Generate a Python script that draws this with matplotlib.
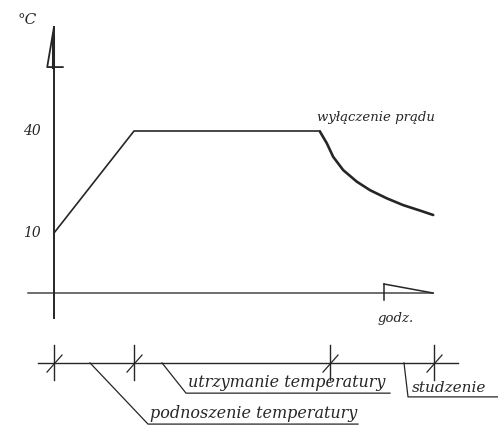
import matplotlib
matplotlib.use('Agg')
import matplotlib.pyplot as plt

# temperature profile (hours, deg C)
hours = [0, 2.0, 6.65]
temps = [10, 40, 40]
cool_hours = [6.65, 6.82, 6.98, 7.23, 7.57, 7.9, 8.32, 8.73, 9.15, 9.48]
cool_temps = [39.8, 36.4, 32.4, 28.5, 25.1, 22.6, 20.2, 18.2, 16.6, 15.3]

# phase boundaries on the time line below
phase_marks = [0, 2.0, 6.9, 9.5]
ytick_vals = [40, 10]
ytick_labels = ['40', '10']

ink = '#262626'
font = ['DejaVu Serif']

fig = plt.figure(figsize=(4.98, 4.28), dpi=100)
ax = fig.add_axes([0, 0, 1, 1])
ax.set_xlim(-1.35, 11.1)
ax.set_ylim(-47.35, 78.53)
ax.axis('off')

# curve
ax.plot(hours, temps, color=ink, lw=1.2, solid_joinstyle='miter')
ax.plot(cool_hours, cool_temps, color=ink, lw=1.9, solid_capstyle='round',
        solid_joinstyle='round')

# vertical axis with half arrow
ax.plot([0, 0], [-15, 70.6], color=ink, lw=1.4)
ax.plot([0, -0.17, 0.22], [70.6, 58.8, 58.8], color=ink, lw=1.3)
ax.plot([-0.02, -0.02], [58.8, 68], color=ink, lw=2.2)

# horizontal axis with flag
ax.plot([-0.65, 9.475], [-7.65, -7.65], color=ink, lw=1.1, alpha=0.85)
ax.plot([8.25, 8.25], [-5.0, -9.7], color=ink, lw=1.1)
ax.plot([8.25, 9.475], [-5.0, -7.65], color=ink, lw=1.1)

for v, s in zip(ytick_vals, ytick_labels):
    ax.text(-0.55, v, s, ha='center', va='center', fontsize=10,
            style='italic', family=font, color=ink)
ax.text(-0.68, 72.6, '°C', ha='center', va='center', fontsize=11,
        style='italic', family=font, color=ink)
ax.text(8.05, 44.0, 'wyłączenie prądu', ha='center', va='center', fontsize=9.5,
        style='italic', family=font, color=ink)
ax.text(8.55, -15, 'godz.', ha='center', va='center', fontsize=9.5,
        style='italic', family=font, color=ink)

# time line with phases
ax.plot([-0.4, 10.1], [-28.2, -28.2], color=ink, lw=1.0)
for t in phase_marks:
    ax.plot([t, t], [-22.9, -33.2], color=ink, lw=1.0)
    ax.plot([t - 0.175, t + 0.2], [-30.9, -25.9], color=ink, lw=0.9)

ax.plot([0.9, 2.35, 7.6], [-28.2, -46.2, -46.2], color=ink, lw=0.9)
ax.text(2.4, -45.6, 'podnoszenie temperatury', ha='left', va='bottom',
        fontsize=11.5, style='italic', family=font, color=ink)
ax.plot([2.7, 3.3, 8.4], [-28.2, -37.1, -37.1], color=ink, lw=0.9)
ax.text(3.35, -36.5, 'utrzymanie temperatury', ha='left', va='bottom',
        fontsize=11.5, style='italic', family=font, color=ink)
ax.plot([8.75, 8.85, 11.1], [-28.2, -38.2, -38.2], color=ink, lw=0.9)
ax.text(8.95, -37.6, 'studzenie', ha='left', va='bottom',
        fontsize=11, style='italic', family=font, color=ink)

fig.savefig('out.png', dpi=100, facecolor='white')
